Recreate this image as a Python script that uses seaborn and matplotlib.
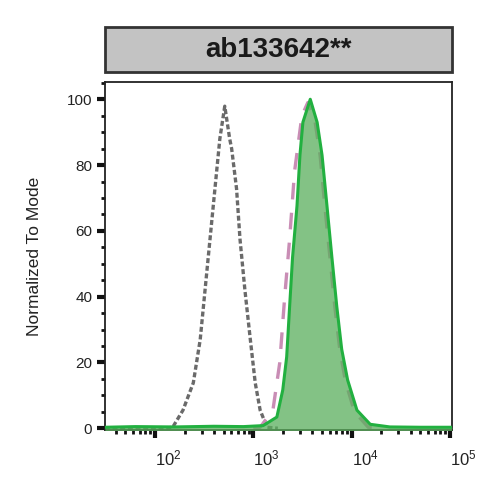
import matplotlib
matplotlib.use("Agg")
import matplotlib.pyplot as plt
import matplotlib.ticker as mticker
from matplotlib.patches import Rectangle
import numpy as np
import pandas as pd
import seaborn as sns

# curves: log10 intensity and % of mode
gray_logx = [1.49, 2.10, 2.18, 2.285, 2.39, 2.46, 2.51, 2.56, 2.61, 2.66, 2.71,
             2.76, 2.78, 2.83, 2.865, 2.915, 2.97, 3.02, 3.07, 3.14, 3.25]
gray_y = [0, 0, 0.3, 5.5, 13.8, 26.9, 42.2, 57.5, 72.8, 88, 97.9,
          88, 85, 72.8, 57.5, 42, 27, 13.8, 5.5, 0.3, 0]

pink_logx = [3.0, 3.07, 3.20, 3.27, 3.32, 3.37, 3.42, 3.495, 3.555,
             3.63, 3.68, 3.73, 3.78, 3.83, 3.88, 3.94, 4.03, 4.17, 4.3]
pink_y = [0, 0.3, 5.5, 20, 40, 57.5, 78, 95, 99,
          93, 83, 67, 52, 37, 24, 14, 5, 0.3, 0]

green_logx = [1.49, 1.8, 2.2, 2.6, 2.9, 3.10, 3.24, 3.30, 3.34, 3.37, 3.40, 3.445,
              3.475, 3.505, 3.58, 3.65, 3.70, 3.75, 3.80, 3.85, 3.90, 3.96,
              4.055, 4.19, 4.39, 4.7, 5.02]
green_y = [0.3, 0.5, 0.4, 0.6, 0.5, 0.8, 3.4, 11.6, 21.7, 37, 52, 67.6,
           83, 93, 100, 93, 83, 67.6, 52, 37, 24, 14.7,
           5.5, 1.2, 0.4, 0.3, 0.3]

title = "ab133642**"

sns.set_style("ticks")
plt.rcParams['font.family'] = ['Liberation Sans', 'DejaVu Sans']

fig = plt.figure(figsize=(4.9, 4.9), dpi=100)
ax = fig.add_axes([0.214, 0.122, 0.708, 0.711])

gray = pd.DataFrame({"x": 10 ** np.array(gray_logx), "y": gray_y})
pink = pd.DataFrame({"x": 10 ** np.array(pink_logx), "y": pink_y})
green = pd.DataFrame({"x": 10 ** np.array(green_logx), "y": green_y})

sns.lineplot(data=gray, x="x", y="y", ax=ax, sort=False, estimator=None,
             color="#6a6a6a", lw=2.4, linestyle=(0, (1.5, 0.8)))
sns.lineplot(data=pink, x="x", y="y", ax=ax, sort=False, estimator=None,
             color="#c98db5", lw=2.4, linestyle=(0, (5, 4)))
ax.fill_between(green["x"], green["y"], -1, color="#5aae5c", alpha=0.75,
                lw=0, zorder=3)
sns.lineplot(data=green, x="x", y="y", ax=ax, sort=False, estimator=None,
             color="#22b040", lw=2.2, zorder=4)

ax.set_xscale("log")
ax.set_xlim(10 ** 1.49, 10 ** 5.02)
ax.set_ylim(-0.6, 105.3)
ax.set_xticks([1e2, 1e3, 1e4, 1e5])
ax.xaxis.set_major_formatter(mticker.LogFormatterMathtext())
ax.xaxis.set_minor_locator(mticker.LogLocator(base=10, subs=np.arange(2, 10)))
ax.xaxis.set_minor_formatter(mticker.NullFormatter())
ax.set_yticks([0, 20, 40, 60, 80, 100])
ax.yaxis.set_minor_locator(mticker.MultipleLocator(5))

ax.tick_params(which="major", direction="out", length=6, width=3, color="#111111",
               labelsize=11, labelcolor="#222222", pad=3)
ax.tick_params(which="minor", direction="out", length=3, width=2, color="#111111")
ax.tick_params(axis="x", which="major", pad=7, labelsize=12)
for lab in ax.get_xticklabels():
    lab.set_ha("left")

for s in ax.spines.values():
    s.set_linewidth(1.3)
    s.set_color("#222222")

ax.set_xlabel("")
ax.set_ylabel("Normalized To Mode", fontsize=12.5, color="#222222", labelpad=18)

# gray title box above the axes
box = Rectangle((0.214, 0.853), 0.708, 0.092, transform=fig.transFigure,
                facecolor="#c3c3c3", edgecolor="#333333", lw=2)
fig.patches.append(box)
fig.text(0.568, 0.897, title, ha="center", va="center", fontsize=20,
         fontweight="bold", color="#1a1a1a")

fig.savefig("out.png", dpi=100)
